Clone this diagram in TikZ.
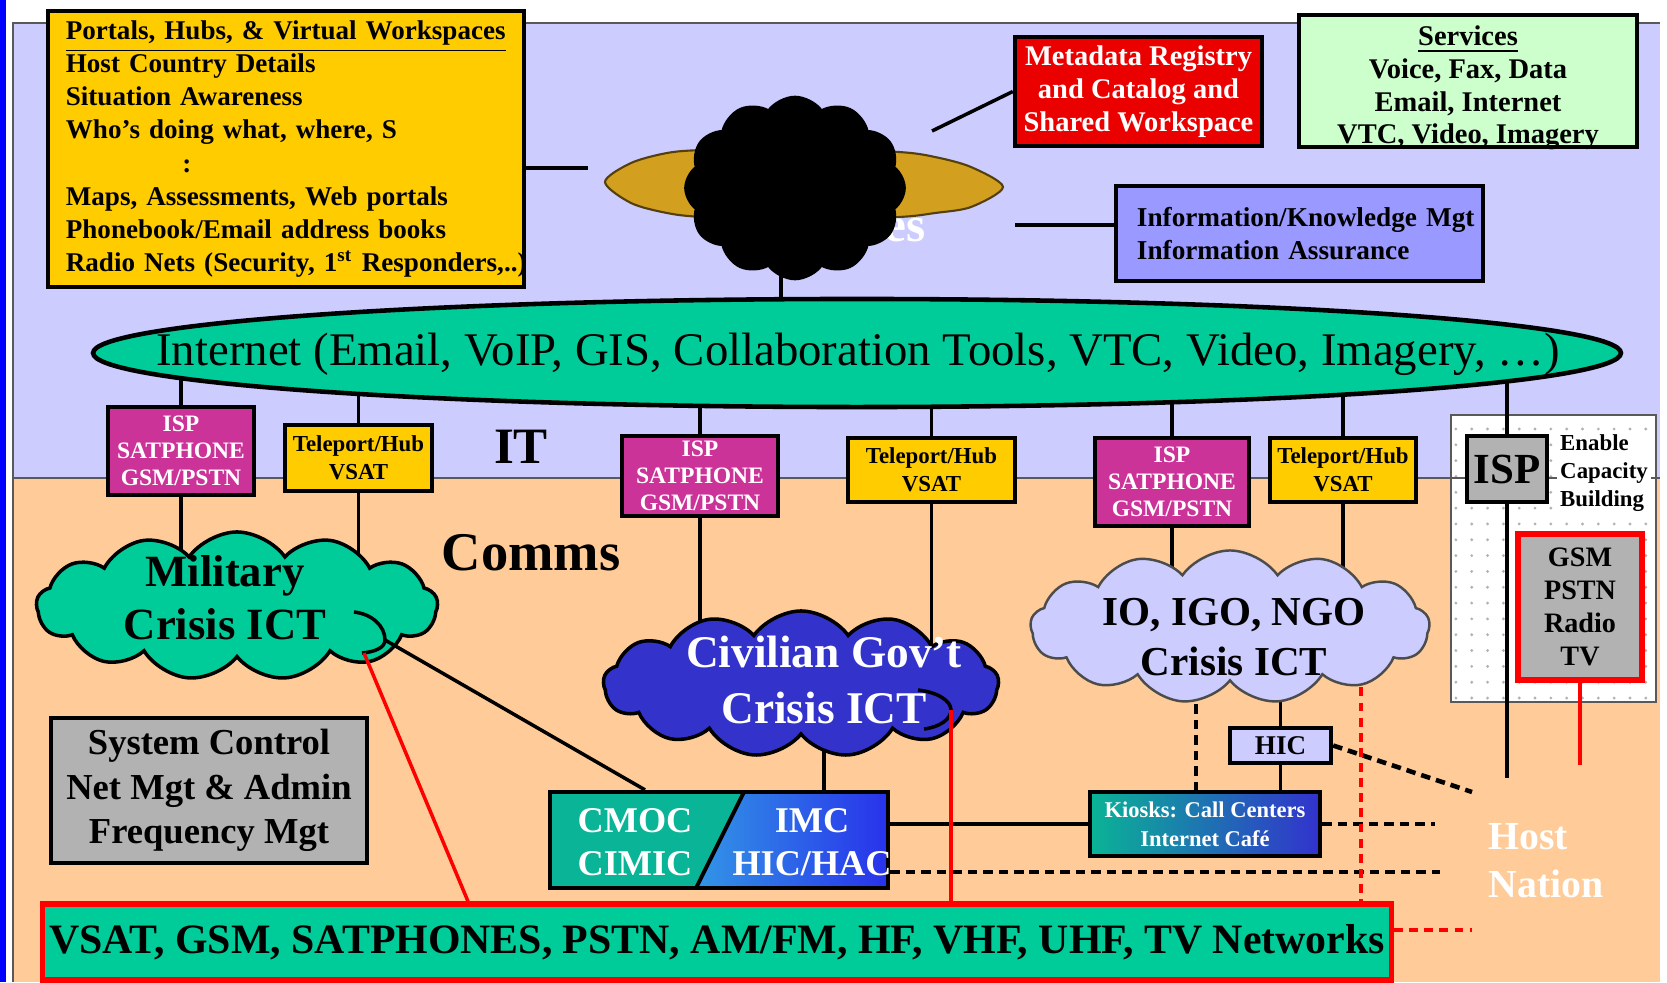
\documentclass[tikz,border=0pt]{standalone}
\usepackage{fontspec}
\setmainfont{Liberation Serif}
\usetikzlibrary{shapes.geometric,shapes.symbols,patterns.meta,calc}
\definecolor{itBack}{RGB}{204,204,255}
\definecolor{commsBack}{RGB}{255,204,153}
\definecolor{netTeal}{RGB}{0,204,153}
\definecolor{cmocTeal}{RGB}{10,180,150}
\definecolor{imcLight}{RGB}{50,150,230}
\definecolor{imcBlue}{RGB}{40,50,235}
\definecolor{kioskBlue}{RGB}{50,50,205}
\definecolor{ispMagenta}{RGB}{204,51,153}
\definecolor{hubYellow}{RGB}{255,204,0}
\definecolor{civBlue}{RGB}{51,51,204}
\definecolor{ioLilac}{RGB}{204,204,255}
\definecolor{svcGreen}{RGB}{204,255,204}
\definecolor{infoBlue}{RGB}{153,153,255}
\definecolor{ctrlGray}{RGB}{178,178,178}
\definecolor{metaRed}{RGB}{235,0,0}
\definecolor{cloudGold}{RGB}{210,160,30}
\definecolor{edgeBlue}{RGB}{0,0,255}
\pgfdeclarelayer{back}
\pgfdeclarelayer{wires}
\pgfsetlayers{back,wires,main}

\begin{document}
\begin{tikzpicture}[
  x=0.01cm,
  y=-0.01cm,
  every node/.style={
    font=\bfseries,
  },
  frame line/.style={
    draw=black!65,
    line width=0.5pt,
  },
  box/.style={
    draw=black,
    line width=1.2pt,
    inner sep=0pt,
    align=center,
  },
  note box/.style={
    box,
    font=\bfseries\fontsize{8.1}{9.4}\selectfont,
  },
  isp box/.style={
    box,
    fill=ispMagenta,
    text=white,
    font=\bfseries\fontsize{6.7}{7.7}\selectfont,
  },
  hub box/.style={
    box,
    fill=hubYellow,
    font=\bfseries\fontsize{6.5}{7.9}\selectfont,
  },
  crisis cloud/.style={
    cloud,
    cloud ignores aspect,
    cloud puffs=13,
    cloud puff arc=110,
    draw=black,
    line width=1pt,
    inner sep=0pt,
  },
  cloud text/.style={
    align=center,
    inner sep=0pt,
  },
  wire/.style={
    draw=black,
    line width=1pt,
  },
  dash wire/.style={
    draw=black,
    line width=1.3pt,
    dash pattern=on 2.7pt off 1.7pt,
  },
  red wire/.style={
    draw=red,
    line width=1pt,
  },
  red dash/.style={
    draw=red,
    line width=1pt,
    dash pattern=on 2.5pt off 1.8pt,
  },
]
\begin{pgfonlayer}{back}
\fill[white] (0,0) rectangle (1667,982);
\fill[edgeBlue] (0,0) rectangle (6,982);
\fill[itBack] (13,23) rectangle (1660,478);
\fill[commsBack] (13,478) rectangle (1660,982);
\draw[frame line] (13,982) -- (13,23) -- (1660,23);
% host nation panel
\fill[white] (1451,415) rectangle (1656,702);
\fill[pattern={Dots[distance=4.5pt,radius=0.45pt]}, pattern color=black!30] (1451,415) rectangle (1656,702);
\draw[frame line] (1451,415) rectangle (1656,702);
\draw[frame line] (13,478) -- (1660,478);
\end{pgfonlayer}

% information layer
\node[note box, fill=hubYellow, align=left, text width=4.4cm, inner xsep=0.18cm, minimum height=2.76cm, font=\bfseries\fontsize{7.7}{9.4}\selectfont] (portals) at (286,149) {\underline{Portals, Hubs, \& Virtual Workspaces}\\
Host Country Details\\
Situation Awareness\\
Who's doing what, where, S\\
\hspace*{4.3em}:\\
Maps, Assessments, Web portals\\
Phonebook/Email address books\\
\mbox{Radio Nets (Security, 1\textsuperscript{st} Responders,..)}};
\node[note box, fill=metaRed, text=white, minimum width=2.47cm, minimum height=1.09cm] (meta) at (1138.5,91.5) {Metadata Registry\\and Catalog and\\Shared Workspace};
\node[box, fill=svcGreen, minimum width=3.38cm, minimum height=1.32cm] (services) at (1468,81) {};
\node[cloud text, font=\bfseries\fontsize{8.1}{9.3}\selectfont] (servicestext) at (1468,88) {\underline{Services}\\Voice, Fax, Data\\Email, Internet\\VTC, Video, Imagery};
\node[note box, fill=infoBlue, align=left, text width=3.25cm, inner xsep=0.21cm, minimum height=0.95cm, font=\bfseries\fontsize{7.75}{9.4}\selectfont] (info) at (1299.5,233.5) {\mbox{Information/Knowledge Mgt}\\Information Assurance};
\node[text=white, anchor=east, font=\bfseries\fontsize{14}{16}\selectfont] (hidden) at (938,225) {Services};
% gold cloud
\draw[fill=cloudGold, draw=black!60!cloudGold, line width=0.6pt] plot[smooth cycle] coordinates {(605,182) (631,163) (667,153) (703,150) (800,148) (899,152) (935,157) (971,167) (1003,187) (971,207) (935,213) (899,217) (800,220) (703,217) (667,213) (631,203)};
\node[crisis cloud, cloud puffs=12, fill=black, minimum width=2.18cm, minimum height=1.81cm] (blk) at (795,188) {};

\node[ellipse, draw=black, line width=1.3pt, fill=netTeal, minimum width=15.27cm, minimum height=1.08cm] (net) at (857,353) {};
\node[font=\fontsize{13.3}{15}\selectfont] (nettext) at (858,354) {Internet (Email, VoIP, GIS, Collaboration Tools, VTC, Video, Imagery, \ldots)};

% access points
\node[isp box, minimum width=1.46cm, minimum height=0.88cm] (isp1) at (181,451) {ISP\\SATPHONE\\GSM/PSTN};
\node[hub box, minimum width=1.47cm, minimum height=0.66cm] (hub1) at (358.5,458) {Teleport/Hub\\VSAT};
\node[isp box, minimum width=1.56cm, minimum height=0.80cm] (isp2) at (700,476) {ISP\\SATPHONE\\GSM/PSTN};
\node[hub box, minimum width=1.67cm, minimum height=0.64cm] (hub2) at (931.5,470) {Teleport/Hub\\VSAT};
\node[isp box, minimum width=1.54cm, minimum height=0.88cm] (isp3) at (1172,482) {ISP\\SATPHONE\\GSM/PSTN};
\node[hub box, minimum width=1.46cm, minimum height=0.64cm] (hub3) at (1343,470) {Teleport/Hub\\VSAT};
\node[font=\bfseries\fontsize{14.5}{16}\selectfont] (itlabel) at (521,447) {IT};
\node[font=\bfseries\fontsize{15.5}{17}\selectfont] (commslabel) at (531,553) {Comms};

% host nation
\node[box, fill=ctrlGray, minimum width=0.80cm, minimum height=0.66cm, font=\bfseries\fontsize{12.2}{14}\selectfont] (isp4) at (1507,469) {ISP};
\node[anchor=west, align=left, fill=white, inner sep=1pt, font=\bfseries\fontsize{6.5}{7.9}\selectfont] (enable) at (1556,473) {Enable\\Capacity\\Building};
\node[box, draw=red, line width=1.5pt, fill=ctrlGray, minimum width=1.24cm, minimum height=1.46cm, font=\bfseries\fontsize{8}{9.4}\selectfont] (gsm) at (1580,607) {GSM\\PSTN\\Radio\\TV};
\node[anchor=west, align=left, inner sep=0pt, text=white, font=\bfseries\fontsize{11.3}{13.6}\selectfont] (host) at (1488,861) {Host\\Nation};

% crisis clouds
\node[crisis cloud, fill=netTeal, minimum width=4.01cm, minimum height=1.48cm] (mil) at (237,606) {};
\node[cloud text, font=\bfseries\fontsize{12.7}{15}\selectfont] (miltext) at (225,598) {Military\\Crisis ICT};
\node[crisis cloud, fill=civBlue, minimum width=3.95cm, minimum height=1.46cm] (civ) at (801,684) {};
\node[cloud text, text=white, font=\bfseries\fontsize{12.9}{15.7}\selectfont] (civtext) at (824,680) {Civilian Gov't\\Crisis ICT};
\node[crisis cloud, fill=ioLilac, draw=black!70, line width=0.7pt, minimum width=3.99cm, minimum height=1.53cm] (io) at (1230,627) {};
\node[cloud text, font=\bfseries\fontsize{11.7}{14.2}\selectfont] (iotext) at (1234,637) {IO, IGO, NGO\\Crisis ICT};
\draw[line width=1pt] (354,612) .. controls (372,614) and (385,626) .. (385,640) .. controls (385,648) and (374,652) .. (362,653);
\draw[line width=1pt] (918,690) .. controls (936,692) and (951,700) .. (951,710) .. controls (951,719) and (940,727) .. (924,729);
\coordinate (milhook) at (385,640);
\coordinate (milhookend) at (364,653);
\coordinate (civhook) at (951,710);

% operations
\node[box, fill=ctrlGray, minimum width=3.16cm, minimum height=1.45cm, font=\bfseries\fontsize{10.4}{12.7}\selectfont] (sysctl) at (209,790.5) {System Control\\Net Mgt \& Admin\\Frequency Mgt};
\node[box, fill=cmocTeal, minimum width=3.38cm, minimum height=0.96cm, path picture={
  \coordinate (imctop) at ($(path picture bounding box.north west)!0.574!(path picture bounding box.north east)$);
  \coordinate (imcbot) at ($(path picture bounding box.south west)!0.432!(path picture bounding box.south east)$);
  \shade[left color=imcLight, right color=imcBlue] (imctop) -- (path picture bounding box.north east) -- (path picture bounding box.south east) -- (imcbot) -- cycle;
  \draw[line width=1.1pt] (imctop) -- (imcbot);
}] (cmoc) at (719,840) {};
\node[cloud text, text=white, font=\bfseries\fontsize{10.3}{12.4}\selectfont] (cmocleft) at (635,842) {CMOC\\CIMIC};
\node[cloud text, text=white, font=\bfseries\fontsize{10.3}{12.4}\selectfont] (cmocright) at (812,842) {IMC\\HIC/HAC};
\node[box, fill=ioLilac, minimum width=1.01cm, minimum height=0.35cm, font=\bfseries\fontsize{7.7}{9}\selectfont] (hic) at (1280.5,745.5) {HIC};
\node[box, left color=cmocTeal, right color=kioskBlue, text=white, minimum width=2.30cm, minimum height=0.64cm, font=\bfseries\fontsize{6.4}{8.2}\selectfont] (kiosk) at (1205,824) {Kiosks: Call Centers\\Internet Café};
\node[box, draw=red, line width=1.5pt, fill=netTeal, minimum width=13.48cm, minimum height=0.76cm, font=\bfseries\fontsize{11.9}{14}\selectfont] (vsat) at (717,942) {VSAT, GSM, SATPHONES, PSTN, AM/FM, HF, VHF, UHF, TV Networks};

% free ends
\coordinate (portend) at (588,168);
\coordinate (metaend) at (932,131);
\coordinate (infoend) at (1015,225);
\coordinate (hostline) at (1507,778);
\coordinate (gsmend) at (1580,765);
\coordinate (hicend) at (1472,792);
\coordinate (kioskend) at (1435,824);
\coordinate (cmocend) at (1440,872);
\coordinate (vsatend) at (1472,930);

\draw[wire] (portend -| portals.east) -- (portend);
\draw[wire] (meta.west) -- (metaend);
\draw[wire] (infoend -| info.west) -- (infoend);
\draw[wire] (milhook) -- (645,0 |- cmoc.north);
\draw[red wire] (milhookend) -- (468,0 |- vsat.north);
\draw[red wire] (civhook) -- (civhook |- vsat.north);
\draw[red wire] (gsm.south) -- (gsmend);

\begin{pgfonlayer}{wires}
\draw[wire] (781,0 |- blk.center) -- (781,0 |- net.center);
\draw[wire] (isp1.north |- net.center) -- (isp1.north);
\draw[wire] (isp1.south) -- (isp1.south |- mil.center);
\draw[wire] (hub1.north |- net.center) -- (hub1.north);
\draw[wire] (hub1.south) -- (hub1.south |- mil.center);
\draw[wire] (isp2.north |- net.center) -- (isp2.north);
\draw[wire] (isp2.south) -- (isp2.south |- civ.center);
\draw[wire] (hub2.north |- net.center) -- (hub2.north);
\draw[wire] (hub2.south) -- (hub2.south |- civ.center);
\draw[wire] (isp3.north |- net.center) -- (isp3.north);
\draw[wire] (isp3.south) -- (isp3.south |- io.center);
\draw[wire] (hub3.north |- net.center) -- (hub3.north);
\draw[wire] (hub3.south) -- (hub3.south |- io.center);
\draw[wire] (hostline |- net.center) -- (hostline);
\draw[wire] (824,0 |- civ.center) -- (824,0 |- cmoc.north);
\draw[wire] (hic.north |- io.center) -- (hic.north);
\draw[wire] (hic.south) -- (hic.south |- kiosk.north);
\draw[wire] (kiosk.west -| cmoc.east) -- (kiosk.west);
\draw[dash wire] (1196,0 |- io.center) -- (1196,0 |- kiosk.north);
\draw[dash wire] (hic.east) -- (hicend);
\draw[dash wire] (kiosk.east) -- (kioskend);
\draw[dash wire] (cmocend -| cmoc.east) -- (cmocend);
\draw[red dash] (1361,0 |- io.center) -- (1361,0 |- vsat.north);
\draw[red dash] (vsatend -| vsat.east) -- (vsatend);
\end{pgfonlayer}
\end{tikzpicture}
\end{document}
